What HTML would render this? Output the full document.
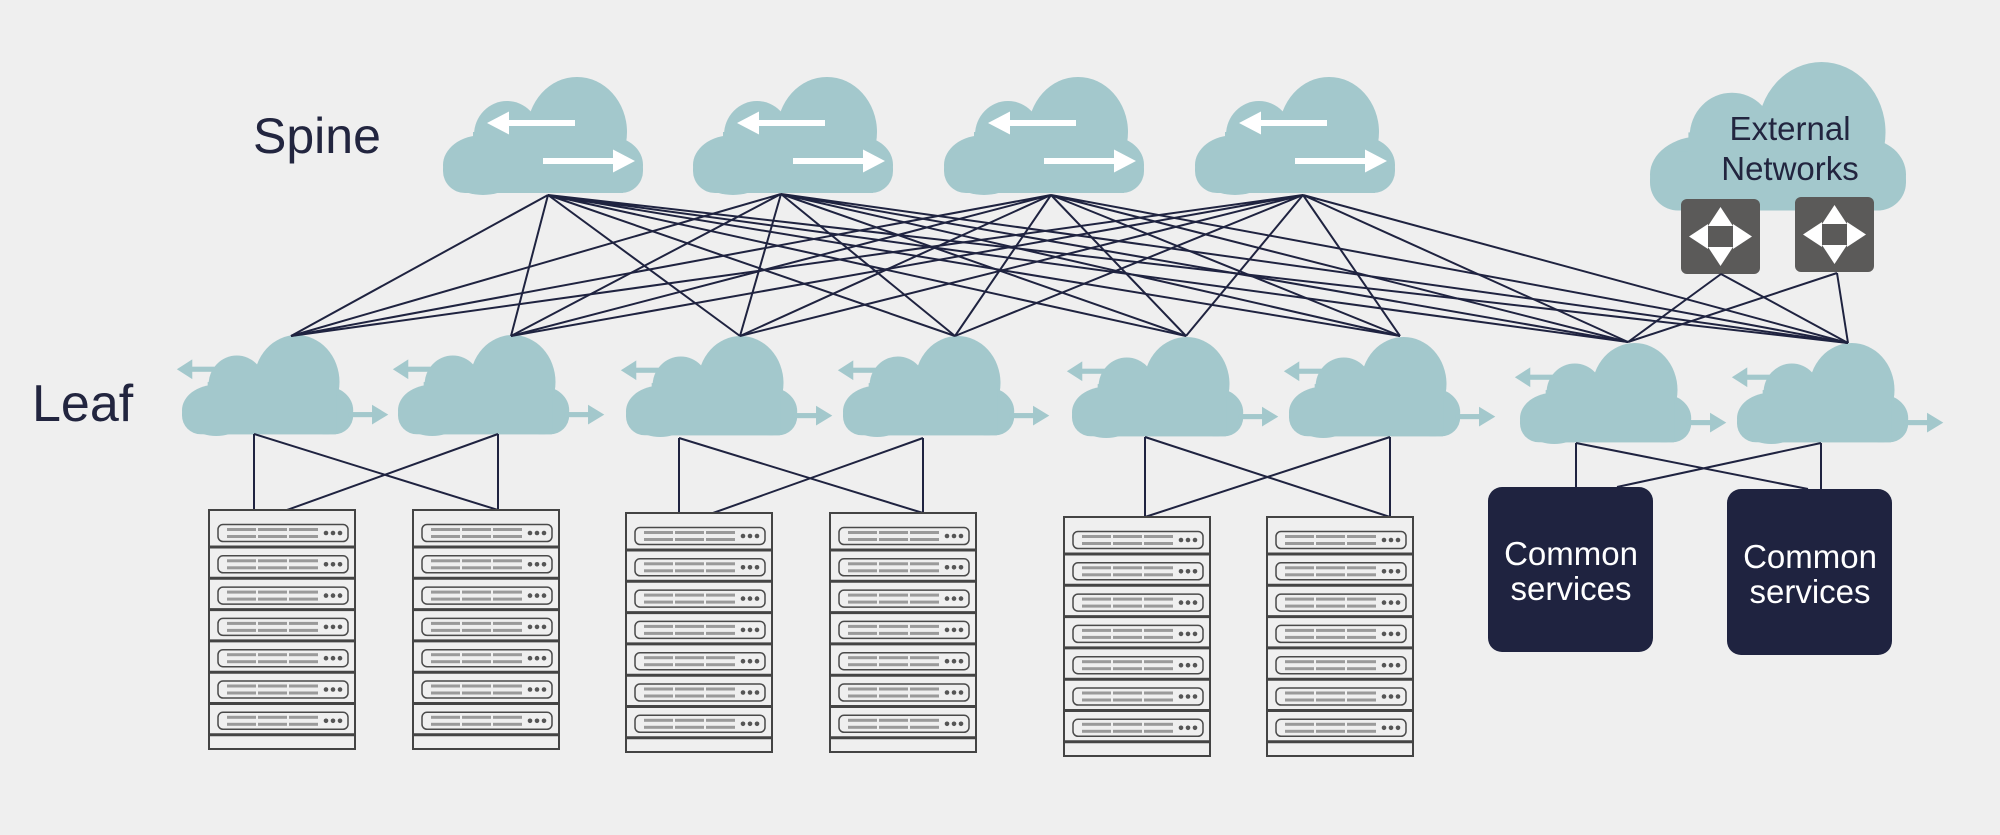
<!DOCTYPE html>
<html><head><meta charset="utf-8"><style>
html,body{margin:0;padding:0;background:#efefef;}
svg{display:block;}
text{font-family:"Liberation Sans",Arial,sans-serif;}
</style></head><body>
<svg width="2000" height="835" viewBox="0 0 2000 835" xmlns="http://www.w3.org/2000/svg">
<defs>
<g id="cloud" fill="#a3c8cc">
  <ellipse cx="134" cy="55" rx="50" ry="55"/>
  <ellipse cx="64" cy="58" rx="33" ry="34"/>
  <ellipse cx="40" cy="88" rx="40" ry="30"/>
  <ellipse cx="168" cy="88" rx="32" ry="28"/>
  <rect x="0" y="70" width="200" height="46" rx="22"/>
  <rect x="30" y="55" width="150" height="61"/>
</g>
<g id="spine">
  <use href="#cloud"/>
  <g fill="#ffffff">
    <rect x="64" y="43" width="68" height="6"/>
    <polygon points="44,46 66,34.5 66,57.5"/>
    <rect x="100" y="81" width="70" height="6"/>
    <polygon points="192,84 170,72.5 170,95.5"/>
  </g>
</g>
<g id="leaf">
  <use href="#cloud"/>
  <g fill="#a3c8cc">
    <rect x="6" y="37" width="32" height="6"/>
    <polygon points="-6,40 12,28.5 12,51.5"/>
    <rect x="195" y="90" width="30" height="6"/>
    <polygon points="241,93 222,81.5 222,104.5"/>
  </g>
</g>
<g id="unit">
  <rect x="9" y="-8.5" width="130" height="17" rx="5" fill="none" stroke="#4a4a4a" stroke-width="1.5"/>
  <g fill="#9a9a9a">
    <rect x="18" y="-5" width="29" height="3"/><rect x="18" y="2" width="29" height="3"/>
    <rect x="49" y="-5" width="29" height="3"/><rect x="49" y="2" width="29" height="3"/>
    <rect x="80" y="-5" width="29" height="3"/><rect x="80" y="2" width="29" height="3"/>
  </g>
  <g fill="#555"><circle cx="117" cy="0" r="2.3"/><circle cx="124" cy="0" r="2.3"/><circle cx="131" cy="0" r="2.3"/></g>
</g>
<g id="rack">
  <rect x="0" y="0" width="146" height="239" fill="none" stroke="#444" stroke-width="2"/>
  <g stroke="#444" stroke-width="3">
    <line x1="0" y1="37" x2="146" y2="37"/>
    <line x1="0" y1="68.3" x2="146" y2="68.3"/>
    <line x1="0" y1="99.6" x2="146" y2="99.6"/>
    <line x1="0" y1="130.9" x2="146" y2="130.9"/>
    <line x1="0" y1="162.2" x2="146" y2="162.2"/>
    <line x1="0" y1="193.5" x2="146" y2="193.5"/>
    <line x1="0" y1="224.8" x2="146" y2="224.8"/>
  </g>
  <use href="#unit" y="23"/><use href="#unit" y="54.3"/><use href="#unit" y="85.6"/>
  <use href="#unit" y="116.9"/><use href="#unit" y="148.2"/><use href="#unit" y="179.5"/><use href="#unit" y="210.8"/>
</g>
<g id="sw">
  <rect x="0" y="0" width="79" height="75" rx="6" fill="#5b5a59"/>
  <g fill="#ffffff">
    <polygon points="39.5,8 52,27 27,27"/>
    <polygon points="39.5,67 52,48 27,48"/>
    <polygon points="8,37.5 27,25 27,50"/>
    <polygon points="71,37.5 52,25 52,50"/>
  </g>
  <rect x="31" y="29" width="17" height="17" fill="#5b5a59"/>
</g>
</defs>

<use href="#cloud" transform="translate(1650,62) scale(1.28)"/>
<text x="1790" y="140" font-size="33" text-anchor="middle" fill="#22253f">External</text>
<text x="1790" y="180" font-size="33" text-anchor="middle" fill="#22253f">Networks</text>
<use href="#sw" x="1681" y="199"/>
<use href="#sw" x="1795" y="197"/>

<use href="#spine" x="443" y="77"/>
<use href="#spine" x="693" y="77"/>
<use href="#spine" x="944" y="77"/>
<use href="#spine" x="1195" y="77"/>

<use href="#leaf" transform="translate(182,335) scale(0.856)"/>
<use href="#leaf" transform="translate(398,335) scale(0.856)"/>
<use href="#leaf" transform="translate(626,336) scale(0.856)"/>
<use href="#leaf" transform="translate(843,336) scale(0.856)"/>
<use href="#leaf" transform="translate(1072,337) scale(0.856)"/>
<use href="#leaf" transform="translate(1289,337) scale(0.856)"/>
<use href="#leaf" transform="translate(1520,343) scale(0.856)"/>
<use href="#leaf" transform="translate(1737,343) scale(0.856)"/>

<g stroke="#1f2340" stroke-width="2" fill="none">
<path d="M548 195L291 336M548 195L511 336M548 195L740 336M548 195L955 336M548 195L1186 336M548 195L1400 336M548 195L1628 342M548 195L1848 343"/>
<path d="M781 194L291 336M781 194L511 336M781 194L740 336M781 194L955 336M781 194L1186 336M781 194L1400 336M781 194L1628 342M781 194L1848 343"/>
<path d="M1051 195L291 336M1051 195L511 336M1051 195L740 336M1051 195L955 336M1051 195L1186 336M1051 195L1400 336M1051 195L1628 342M1051 195L1848 343"/>
<path d="M1303 195L291 336M1303 195L511 336M1303 195L740 336M1303 195L955 336M1303 195L1186 336M1303 195L1400 336M1303 195L1628 342M1303 195L1848 343"/>
<path d="M1721 274L1628 342M1721 274L1848 343M1837 273L1628 342M1837 273L1848 343"/>
<path d="M254 434L254 510M254 434L498 510M498 434L498 510M498 434L287 510"/>
<path d="M679 438L679 513M679 438L923 513M923 438L923 513M923 438L713 513"/>
<path d="M1145 437L1145 517M1145 437L1390 517M1390 437L1390 517M1390 437L1145 517"/>
<path d="M1576 443L1576 487M1576 443L1808 489M1821 443L1821 489M1821 443L1617 487"/>
</g>

<use href="#rack" x="209" y="510"/>
<use href="#rack" x="413" y="510"/>
<use href="#rack" x="626" y="513"/>
<use href="#rack" x="830" y="513"/>
<use href="#rack" x="1064" y="517"/>
<use href="#rack" x="1267" y="517"/>

<rect x="1488" y="487" width="165" height="165" rx="14" fill="#1f2340"/>
<rect x="1727" y="489" width="165" height="166" rx="14" fill="#1f2340"/>
<text x="1571" y="565" font-size="33" text-anchor="middle" fill="#ffffff">Common</text>
<text x="1571" y="600" font-size="33" text-anchor="middle" fill="#ffffff">services</text>
<text x="1810" y="568" font-size="33" text-anchor="middle" fill="#ffffff">Common</text>
<text x="1810" y="603" font-size="33" text-anchor="middle" fill="#ffffff">services</text>

<text x="253" y="153" font-size="50" fill="#22253f">Spine</text>
<text x="32" y="421" font-size="52" fill="#22253f">Leaf</text>
</svg>
</body></html>
